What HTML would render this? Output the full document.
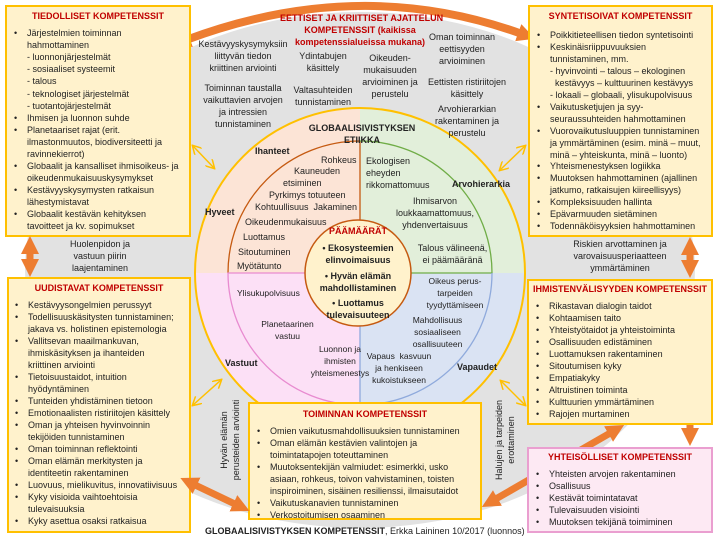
<!DOCTYPE html>
<html><head><meta charset="utf-8"><style>
*{margin:0;padding:0;box-sizing:border-box}
body{width:720px;height:540px;overflow:hidden;background:#fff;font-family:"Liberation Sans",sans-serif;font-size:9px;color:#222;position:relative}
.a{position:absolute;white-space:nowrap;line-height:12px}
.c{text-align:center}
.b{font-weight:bold}
.r{color:#c00000;font-weight:bold}
.s{font-size:8.5px}
.box{position:absolute;background:#fff2cc;border:2px solid #ffc000}
.ln{position:absolute;white-space:nowrap;line-height:12px;font-size:9px}
.bu::before{content:"•";position:absolute;left:-13px}
</style></head><body>
<svg width="720" height="540" style="position:absolute;left:0;top:0">
<defs>
<marker id="oh" markerUnits="userSpaceOnUse" markerWidth="20" markerHeight="20" refX="4" refY="10" orient="auto-start-reverse"><path d="M0,1 L18,10 L0,19 Z" fill="#ed7d31"/></marker>
<marker id="yh" markerUnits="userSpaceOnUse" markerWidth="10" markerHeight="10" refX="8" refY="5" orient="auto-start-reverse"><path d="M0,0 L9,5 L0,10" fill="none" stroke="#ffc000" stroke-width="1.5"/></marker>
</defs>
<ellipse cx="360" cy="270" rx="335" ry="258" fill="#e2e2e2"/>
<path d="M360,273 L195,273 A165,165 0 0 1 360,108 Z" fill="#fce4d6"/>
<path d="M360,273 L360,108 A165,165 0 0 1 525,273 Z" fill="#e2efda"/>
<path d="M360,273 L525,273 A165,165 0 0 1 360,438 Z" fill="#dae3f3"/>
<path d="M360,273 L360,438 A165,165 0 0 1 195,273 Z" fill="#fce0f6"/>
<circle cx="360" cy="273" r="165" fill="none" stroke="#ffc000" stroke-width="2"/>
<path d="M228,273 A132,132 0 0 1 360,141 L360,273" fill="none" stroke="#c55a11" stroke-width="1.3"/>
<path d="M360,141 A132,132 0 0 1 492,273 L360,273" fill="none" stroke="#70ad47" stroke-width="1.3"/>
<path d="M492,273 A132,132 0 0 1 360,405 L360,273" fill="none" stroke="#8faadc" stroke-width="1.3"/>
<path d="M360,405 A132,132 0 0 1 228,273 L360,273" fill="none" stroke="#e88bd0" stroke-width="1.3"/>
<circle cx="358" cy="273" r="53" fill="#fff2cc" stroke="#c55a11" stroke-width="1.5"/>
<path d="M186,40 Q360,-25 522,34" fill="none" stroke="#ed7d31" stroke-width="8" marker-start="url(#oh)" marker-end="url(#oh)"/>
<line x1="193" y1="146" x2="214" y2="168" stroke="#ffc000" stroke-width="1.5" marker-start="url(#yh)" marker-end="url(#yh)"/>
<line x1="525" y1="146" x2="500" y2="170" stroke="#ffc000" stroke-width="1.5" marker-start="url(#yh)" marker-end="url(#yh)"/>
<line x1="193" y1="405" x2="221" y2="380" stroke="#ffc000" stroke-width="1.5" marker-start="url(#yh)" marker-end="url(#yh)"/>
<line x1="501" y1="381" x2="525" y2="405" stroke="#ffc000" stroke-width="1.5" marker-start="url(#yh)" marker-end="url(#yh)"/>
</svg>

<div class="box" style="left:5px;top:5px;width:186px;height:232px"></div>
<div class="box" style="left:528px;top:5px;width:185px;height:232px"></div>
<div class="box" style="left:7px;top:277px;width:184px;height:256px"></div>
<div class="box" style="left:527px;top:279px;width:186px;height:146px"></div>
<div class="box" style="left:248px;top:402px;width:234px;height:118px"></div>

<svg width="720" height="540" style="position:absolute;left:0;top:0">
<defs>
<marker id="oh2" markerUnits="userSpaceOnUse" markerWidth="20" markerHeight="20" refX="4" refY="10" orient="auto-start-reverse"><path d="M0,1 L18,10 L0,19 Z" fill="#ed7d31"/></marker>
</defs>
<line x1="30" y1="250" x2="30" y2="263" stroke="#ed7d31" stroke-width="7" marker-start="url(#oh2)" marker-end="url(#oh2)"/>
<line x1="690" y1="251" x2="690" y2="264" stroke="#ed7d31" stroke-width="7" marker-start="url(#oh2)" marker-end="url(#oh2)"/>
<line x1="690" y1="425" x2="690" y2="432" stroke="#ed7d31" stroke-width="7" marker-end="url(#oh2)"/>
<line x1="193" y1="484" x2="237" y2="505" stroke="#ed7d31" stroke-width="7" marker-start="url(#oh2)" marker-end="url(#oh2)"/>
<line x1="494" y1="500" x2="612" y2="432" stroke="#ed7d31" stroke-width="7" marker-start="url(#oh2)" marker-end="url(#oh2)"/>
</svg>
<div class="box" style="left:527px;top:447px;width:186px;height:86px;background:#fde9f3;border-color:#ea9fd0"></div>

<div class="a r" style="left:5px;width:186px;top:10px;text-align:center">TIEDOLLISET KOMPETENSSIT</div>
<div style="position:absolute;left:27px;top:27px">
<div class="ln bu" style="top:0">Järjestelmien toiminnan</div>
<div class="ln" style="top:12px">hahmottaminen</div>
<div class="ln" style="top:24px">- luonnonjärjestelmät</div>
<div class="ln" style="top:36px">- sosiaaliset systeemit</div>
<div class="ln" style="top:48px">- talous</div>
<div class="ln" style="top:61px">- teknologiset järjestelmät</div>
<div class="ln" style="top:73px">- tuotantojärjestelmät</div>
<div class="ln bu" style="top:85px">Ihmisen ja luonnon suhde</div>
<div class="ln bu" style="top:97px">Planetaariset rajat (erit.</div>
<div class="ln" style="top:109px">ilmastonmuutos, biodiversiteetti ja</div>
<div class="ln" style="top:121px">ravinnekierrot)</div>
<div class="ln bu" style="top:133px">Globaalit ja kansalliset ihmisoikeus- ja</div>
<div class="ln" style="top:145px">oikeudenmukaisuuskysymykset</div>
<div class="ln bu" style="top:157px">Kestävyyskysymysten ratkaisun</div>
<div class="ln" style="top:169px">lähestymistavat</div>
<div class="ln bu" style="top:181px">Globaalit kestävän kehityksen</div>
<div class="ln" style="top:193px">tavoitteet ja kv. sopimukset</div>
</div>

<div class="a r" style="left:528px;width:185px;top:10px;text-align:center">SYNTETISOIVAT KOMPETENSSIT</div>
<div style="position:absolute;left:550px;top:29px">
<div class="ln bu" style="top:0">Poikkitieteellisen tiedon syntetisointi</div>
<div class="ln bu" style="top:12px">Keskinäisriippuvuuksien</div>
<div class="ln" style="top:24px">tunnistaminen, mm.</div>
<div class="ln" style="top:36px">- hyvinvointi – talous – ekologinen</div>
<div class="ln" style="top:48px">&nbsp;&nbsp;kestävyys – kulttuurinen kestävyys</div>
<div class="ln" style="top:60px">- lokaali – globaali, ylisukupolvisuus</div>
<div class="ln bu" style="top:72px">Vaikutusketjujen ja syy-</div>
<div class="ln" style="top:84px">seuraussuhteiden hahmottaminen</div>
<div class="ln bu" style="top:96px">Vuorovaikutusluuppien tunnistaminen</div>
<div class="ln" style="top:108px">ja ymmärtäminen (esim. minä – muut,</div>
<div class="ln" style="top:120px">minä – yhteiskunta, minä – luonto)</div>
<div class="ln bu" style="top:131px">Yhteismenestyksen logiikka</div>
<div class="ln bu" style="top:143px">Muutoksen hahmottaminen (ajallinen</div>
<div class="ln" style="top:155px">jatkumo, ratkaisujen kiireellisyys)</div>
<div class="ln bu" style="top:167px">Kompleksisuuden hallinta</div>
<div class="ln bu" style="top:179px">Epävarmuuden sietäminen</div>
<div class="ln bu" style="top:191px">Todennäköisyyksien hahmottaminen</div>
</div>

<div class="a r" style="left:7px;width:184px;top:282px;text-align:center">UUDISTAVAT KOMPETENSSIT</div>
<div style="position:absolute;left:28px;top:299px">
<div class="ln bu" style="top:0">Kestävyysongelmien perussyyt</div>
<div class="ln bu" style="top:12px">Todellisuuskäsitysten tunnistaminen;</div>
<div class="ln" style="top:24px">jakava vs. holistinen epistemologia</div>
<div class="ln bu" style="top:36px">Vallitsevan maailmankuvan,</div>
<div class="ln" style="top:48px">ihmiskäsityksen ja ihanteiden</div>
<div class="ln" style="top:60px">kriittinen arviointi</div>
<div class="ln bu" style="top:72px">Tietoisuustaidot, intuition</div>
<div class="ln" style="top:84px">hyödyntäminen</div>
<div class="ln bu" style="top:96px">Tunteiden yhdistäminen tietoon</div>
<div class="ln bu" style="top:108px">Emotionaalisten ristiriitojen käsittely</div>
<div class="ln bu" style="top:120px">Oman ja yhteisen hyvinvoinnin</div>
<div class="ln" style="top:132px">tekijöiden tunnistaminen</div>
<div class="ln bu" style="top:144px">Oman toiminnan reflektointi</div>
<div class="ln bu" style="top:156px">Oman elämän merkitysten ja</div>
<div class="ln" style="top:168px">identiteetin rakentaminen</div>
<div class="ln bu" style="top:180px">Luovuus, mielikuvitus, innovatiivisuus</div>
<div class="ln bu" style="top:192px">Kyky visioida vaihtoehtoisia</div>
<div class="ln" style="top:204px">tulevaisuuksia</div>
<div class="ln bu" style="top:216px">Kyky asettua osaksi ratkaisua</div>
</div>

<div class="a r" style="left:527px;width:186px;top:283px;text-align:center">IHMISTENVÄLISYYDEN KOMPETENSSIT</div>
<div style="position:absolute;left:549px;top:300px">
<div class="ln bu" style="top:0">Rikastavan dialogin taidot</div>
<div class="ln bu" style="top:12px">Kohtaamisen taito</div>
<div class="ln bu" style="top:24px">Yhteistyötaidot ja yhteistoiminta</div>
<div class="ln bu" style="top:36px">Osallisuuden edistäminen</div>
<div class="ln bu" style="top:48px">Luottamuksen rakentaminen</div>
<div class="ln bu" style="top:60px">Sitoutumisen kyky</div>
<div class="ln bu" style="top:72px">Empatiakyky</div>
<div class="ln bu" style="top:84px">Altruistinen toiminta</div>
<div class="ln bu" style="top:96px">Kulttuurien ymmärtäminen</div>
<div class="ln bu" style="top:108px">Rajojen murtaminen</div>
</div>

<div class="a r" style="left:527px;width:186px;top:451px;text-align:center">YHTEISÖLLISET KOMPETENSSIT</div>
<div style="position:absolute;left:549px;top:468px">
<div class="ln bu" style="top:0">Yhteisten arvojen rakentaminen</div>
<div class="ln bu" style="top:12px">Osallisuus</div>
<div class="ln bu" style="top:24px">Kestävät toimintatavat</div>
<div class="ln bu" style="top:36px">Tulevaisuuden visiointi</div>
<div class="ln bu" style="top:48px">Muutoksen tekijänä toimiminen</div>
</div>

<div class="a r" style="left:248px;width:234px;top:408px;text-align:center">TOIMINNAN KOMPETENSSIT</div>
<div style="position:absolute;left:270px;top:425px">
<div class="ln bu" style="top:0">Omien vaikutusmahdollisuuksien tunnistaminen</div>
<div class="ln bu" style="top:12px">Oman elämän kestävien valintojen ja</div>
<div class="ln" style="top:24px">toimintatapojen toteuttaminen</div>
<div class="ln bu" style="top:36px">Muutoksentekijän valmiudet: esimerkki, usko</div>
<div class="ln" style="top:48px">asiaan, rohkeus, toivon vahvistaminen, toisten</div>
<div class="ln" style="top:60px">inspiroiminen, sisäinen resilienssi, ilmaisutaidot</div>
<div class="ln bu" style="top:72px">Vaikutuskanavien tunnistaminen</div>
<div class="ln bu" style="top:84px">Verkostoitumisen osaaminen</div>
</div>

<div class="a" style="left:205px;top:525px"><b>GLOBAALISIVISTYKSEN KOMPETENSSIT</b>, Erkka Laininen 10/2017 (luonnos)</div>

<div class="a r c" style="left:280px;width:160px;top:12px">EETTISET JA KRIITTISET AJATTELUN<br>KOMPETENSSIT (kaikissa<br>kompetenssialueissa mukana)</div>
<div class="a c" style="left:183px;width:120px;top:38px">Kestävyyskysymyksiin<br>liittyvän tiedon<br>kriittinen arviointi</div>
<div class="a c" style="left:183px;width:120px;top:82px">Toiminnan taustalla<br>vaikuttavien arvojen<br>ja intressien<br>tunnistaminen</div>
<div class="a c" style="left:283px;width:80px;top:50px">Ydintabujen<br>käsittely</div>
<div class="a c" style="left:283px;width:80px;top:84px">Valtasuhteiden<br>tunnistaminen</div>
<div class="a c" style="left:350px;width:80px;top:52px">Oikeuden-<br>mukaisuuden<br>arvioiminen ja<br>perustelu</div>
<div class="a c" style="left:422px;width:80px;top:31px">Oman toiminnan<br>eettisyyden<br>arvioiminen</div>
<div class="a c" style="left:417px;width:100px;top:76px">Eettisten ristiriitojen<br>käsittely</div>
<div class="a c" style="left:417px;width:100px;top:103px">Arvohierarkian<br>rakentaminen ja<br>perustelu</div>
<div class="a c" style="left:40px;width:120px;top:238px">Huolenpidon ja<br>vastuun piirin<br>laajentaminen</div>
<div class="a c" style="left:555px;width:130px;top:238px">Riskien arvottaminen ja<br>varovaisuusperiaatteen<br>ymmärtäminen</div>
<div class="a c" style="left:170px;width:120px;top:428px;transform:rotate(-90deg);transform-origin:center">Hyvän elämän<br>perusteiden arviointi</div>
<div class="a c" style="left:445px;width:120px;top:428px;transform:rotate(-90deg);transform-origin:center">Halujen ja tarpeiden<br>erottaminen</div>

<div class="a b c" style="left:300px;width:124px;top:122px">GLOBAALISIVISTYKSEN<br>ETIIKKA</div>
<div class="a b" style="left:255px;top:145px">Ihanteet</div>
<div class="a b" style="left:205px;top:206px">Hyveet</div>
<div class="a b" style="left:452px;top:178px">Arvohierarkia</div>
<div class="a b" style="left:225px;top:357px">Vastuut</div>
<div class="a b" style="left:457px;top:361px">Vapaudet</div>

<div class="a" style="left:321px;top:154px">Rohkeus</div>
<div class="a" style="left:294px;top:165px">Kauneuden</div>
<div class="a" style="left:283px;top:177px">etsiminen</div>
<div class="a" style="left:269px;top:189px">Pyrkimys totuuteen</div>
<div class="a" style="left:255px;top:201px">Kohtuullisuus &nbsp;Jakaminen</div>
<div class="a" style="left:245px;top:216px">Oikeudenmukaisuus</div>
<div class="a" style="left:243px;top:231px">Luottamus</div>
<div class="a" style="left:238px;top:246px">Sitoutuminen</div>
<div class="a" style="left:237px;top:260px">Myötätunto</div>

<div class="a" style="left:366px;top:155px">Ekologisen<br>eheyden<br>rikkomattomuus</div>
<div class="a c" style="left:380px;width:110px;top:195px">Ihmisarvon<br>loukkaamattomuus,<br>yhdenvertaisuus</div>
<div class="a c" style="left:410px;width:85px;top:242px">Talous välineenä,<br>ei päämääränä</div>

<div class="a s" style="left:237px;top:287px">Ylisukupolvisuus</div>
<div class="a c s" style="left:250px;width:75px;top:318px">Planetaarinen<br>vastuu</div>
<div class="a c s" style="left:298px;width:84px;top:343px">Luonnon ja<br>ihmisten<br>yhteismenestys</div>
<div class="a c s" style="left:415px;width:80px;top:275px">Oikeus perus-<br>tarpeiden<br>tyydyttämiseen</div>
<div class="a c s" style="left:395px;width:85px;top:314px">Mahdollisuus<br>sosiaaliseen<br>osallisuuteen</div>
<div class="a c s" style="left:360px;width:78px;top:350px">Vapaus &nbsp;kasvuun<br>ja henkiseen<br>kukoistukseen</div>

<div class="a r c" style="left:318px;width:80px;top:225px">PÄÄMÄÄRÄT</div>
<div class="a b c" style="left:308px;width:100px;top:242px">• Ekosysteemien<br>elinvoimaisuus</div>
<div class="a b c" style="left:308px;width:100px;top:270px">• Hyvän elämän<br>mahdollistaminen</div>
<div class="a b c" style="left:308px;width:100px;top:297px">• Luottamus<br>tulevaisuuteen</div>
</body></html>
